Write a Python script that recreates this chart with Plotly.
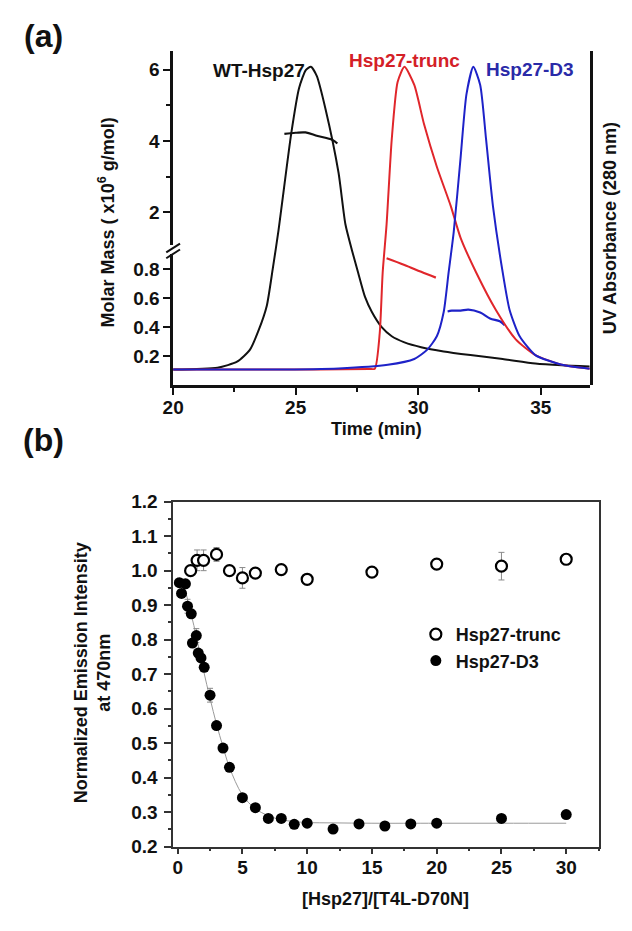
import plotly.graph_objects as go

# ---------------- Panel (a) data: UV absorbance traces (arbitrary units) -------------
wt_uv_t = [20.0, 21.81, 22.61, 23.13, 23.49, 23.82, 24.06, 24.30, 24.82, 25.14, 25.42, 25.62,
           25.86, 26.22, 26.75, 27.03, 27.31, 27.55, 27.83, 28.11, 28.51, 28.92, 29.44, 30.12,
           31.04, 32.13, 33.45, 34.78, 35.86, 37.0]
wt_uv_v = [0.0, 0.006, 0.026, 0.065, 0.13, 0.21, 0.33, 0.46, 0.78, 0.93, 0.99, 1.0,
           0.97, 0.86, 0.65, 0.48, 0.39, 0.32, 0.24, 0.19, 0.14, 0.11, 0.09, 0.074,
           0.06, 0.048, 0.035, 0.02, 0.014, 0.01]

trunc_uv_t = [20.0, 24.0, 28.0, 28.23, 28.43, 28.55, 28.71, 28.92, 29.16, 29.44, 29.84, 30.24,
              30.76, 31.33, 31.73, 32.37, 33.17, 33.98, 34.78, 35.86, 37.0]
trunc_uv_v = [0.0, 0.0, 0.002, 0.003, 0.12, 0.32, 0.48, 0.76, 0.95, 1.0, 0.94, 0.81,
              0.67, 0.54, 0.435, 0.32, 0.197, 0.10, 0.048, 0.016, 0.003]

d3_uv_t = [20.0, 24.0, 26.75, 28.76, 29.84, 30.36, 30.76, 31.04, 31.24, 31.45, 31.73, 31.97,
           32.25, 32.53, 32.77, 33.05, 33.45, 33.73, 34.14, 34.78, 35.86, 37.0]
d3_uv_v = [0.0, 0.0, 0.004, 0.016, 0.035, 0.065, 0.11, 0.19, 0.32, 0.455, 0.70, 0.91,
           1.0, 0.94, 0.76, 0.54, 0.32, 0.197, 0.11, 0.048, 0.016, 0.003]

# ---------------- Panel (a) data: molar mass (x10^6 g/mol) ----------------
wt_mm_t = [24.54, 25.0, 25.4, 25.9, 26.5, 26.7]
wt_mm_v = [4.20, 4.23, 4.24, 4.14, 4.03, 3.93]
trunc_mm_t = [28.71, 29.44, 30.12, 30.72]
trunc_mm_v = [0.873, 0.827, 0.78, 0.74]
d3_mm_t = [31.2, 31.37, 31.73, 32.05, 32.53, 32.93, 33.33, 33.53]
d3_mm_v = [0.507, 0.513, 0.513, 0.52, 0.50, 0.46, 0.44, 0.413]

# ---------------- Panel (b) data ----------------
trunc_x = [1.0, 1.5, 2.0, 3.0, 4.0, 5.0, 6.0, 8.0, 10.0, 15.0, 20.0, 25.0, 30.0]
trunc_y = [1.0, 1.03, 1.03, 1.047, 1.0, 0.979, 0.993, 1.003, 0.975, 0.996, 1.019, 1.013, 1.033]
trunc_err = [0.01, 0.03, 0.03, 0.02, 0.005, 0.03, 0.005, 0.005, 0.004, 0.005, 0.008, 0.04, 0.004]

d3_x = [0.13, 0.3, 0.6, 0.76, 1.05, 1.14, 1.44, 1.59, 1.8, 2.05, 2.5, 3.0, 3.5, 4.0, 5.0, 6.0,
        7.0, 8.0, 9.0, 10.0, 12.0, 14.0, 16.0, 18.0, 20.0, 25.0, 30.0]
d3_y = [0.965, 0.934, 0.962, 0.897, 0.875, 0.79, 0.812, 0.761, 0.747, 0.72, 0.639, 0.551, 0.486,
        0.43, 0.342, 0.313, 0.282, 0.282, 0.265, 0.268, 0.251, 0.266, 0.26, 0.266, 0.268, 0.282, 0.293]
d3_err = [0.01, 0.01, 0.01, 0.02, 0.01, 0.01, 0.02, 0.01, 0.01, 0.01, 0.02, 0.01, 0.01,
          0.01, 0.005, 0.005, 0.005, 0.005, 0.005, 0.005, 0.005, 0.005, 0.005, 0.005, 0.005, 0.005, 0.005]

fit_x = [0.0, 0.5, 1.0, 1.5, 2.0, 2.5, 3.0, 3.5, 4.0, 5.0, 6.0, 7.0, 8.0, 9.0, 10.0, 12.0, 15.0,
         20.0, 25.0, 30.0]
fit_y = [0.98, 0.95, 0.88, 0.80, 0.71, 0.63, 0.555, 0.49, 0.43, 0.35, 0.31, 0.29, 0.278, 0.273,
         0.27, 0.269, 0.268, 0.268, 0.268, 0.268]

FONT = "Arial, Liberation Sans, sans-serif"
BLACK = "#111111"
RED = "#e0262b"
BLUE = "#1e22c8"

fig = go.Figure()

for t, v, c in [(wt_uv_t, wt_uv_v, BLACK), (trunc_uv_t, trunc_uv_v, RED), (d3_uv_t, d3_uv_v, BLUE)]:
    fig.add_trace(go.Scatter(x=t, y=v, mode="lines", line=dict(color=c, width=2, shape="spline", smoothing=0.6),
                             xaxis="x", yaxis="y3", showlegend=False, hoverinfo="skip"))
fig.add_trace(go.Scatter(x=wt_mm_t, y=wt_mm_v, mode="lines", line=dict(color=BLACK, width=2.2, shape="spline"),
                         xaxis="x", yaxis="y2", showlegend=False))
fig.add_trace(go.Scatter(x=trunc_mm_t, y=trunc_mm_v, mode="lines", line=dict(color=RED, width=2.2, shape="spline"),
                         xaxis="x", yaxis="y", showlegend=False))
fig.add_trace(go.Scatter(x=d3_mm_t, y=d3_mm_v, mode="lines", line=dict(color=BLUE, width=2.2, shape="spline"),
                         xaxis="x", yaxis="y", showlegend=False))

fig.add_trace(go.Scatter(x=fit_x, y=fit_y, mode="lines", line=dict(color="#9a9a9a", width=1, shape="spline"),
                         xaxis="x2", yaxis="y4", showlegend=False))
fig.add_trace(go.Scatter(x=trunc_x, y=trunc_y, mode="markers", name="Hsp27-trunc",
                         marker=dict(symbol="circle", size=11, color="white", line=dict(width=2.2, color="black")),
                         error_y=dict(type="data", array=trunc_err, color="#8a8a8a", thickness=1, width=3),
                         xaxis="x2", yaxis="y4"))
fig.add_trace(go.Scatter(x=d3_x, y=d3_y, mode="markers", name="Hsp27-D3",
                         marker=dict(symbol="circle", size=11, color="black"),
                         error_y=dict(type="data", array=d3_err, color="#8a8a8a", thickness=1, width=3),
                         xaxis="x2", yaxis="y4"))

W, H = 632, 931
def px(x):
    return x / W
def py(y):
    return 1 - y / H

tickfont = dict(family=FONT, size=19, color=BLACK, weight="bold")
axcommon = dict(showgrid=False, zeroline=False, ticks="outside", tickwidth=2, ticklen=7,
                tickcolor=BLACK, linecolor=BLACK, tickfont=tickfont)

fig.update_layout(
    width=W, height=H,
    margin=dict(l=0, r=0, t=0, b=0),
    paper_bgcolor="white", plot_bgcolor="rgba(0,0,0,0)",
    font=dict(family=FONT, color=BLACK),
    xaxis=dict(domain=[px(165), px(589)], range=[20, 37], anchor="y", showline=True, linewidth=2.5,
               tickvals=[20, 25, 30, 35], ticklabelstandoff=-4,
               minor=dict(tickvals=[22.5, 27.5, 32.5], ticks="outside", ticklen=4, tickwidth=2, tickcolor=BLACK),
               **axcommon),
    yaxis=dict(domain=[py(384), py(250)], range=[0, 0.9], anchor="x", showline=True, linewidth=2.5,
               tickvals=[0.2, 0.4, 0.6, 0.8], ticktext=["0.2", "0.4", "0.6", "0.8"], **axcommon),
    yaxis2=dict(domain=[py(240), py(42)], range=[1.096, 6.52], anchor="x", showline=True, linewidth=2.5,
                tickvals=[2, 4, 6], minor=dict(tickvals=[3, 5], ticks="outside", ticklen=4, tickwidth=2,
                                               tickcolor=BLACK), **axcommon),
    yaxis3=dict(domain=[py(384), py(42)], range=[-0.052, 1.052], anchor="x", side="right", showline=True,
                linewidth=2.5, linecolor=BLACK, showticklabels=False, ticks="", showgrid=False, zeroline=False),
    xaxis2=dict(domain=[px(165), px(598)], range=[-0.35, 32.5], anchor="y4", showline=True, linewidth=1.5,
                mirror=True, tickvals=[0, 5, 10, 15, 20, 25, 30], ticklabelstandoff=-3,
                minor=dict(dtick=2.5, tick0=0, ticks="outside", ticklen=3, tickwidth=1.5, tickcolor="#333"),
                showgrid=False, zeroline=False, ticks="outside", tickwidth=1.5, ticklen=6, tickcolor="#333",
                linecolor="#333", tickfont=tickfont),
    yaxis4=dict(domain=[py(856), py(503)], range=[0.2, 1.2], anchor="x2", showline=True, linewidth=1.5,
                mirror=True, dtick=0.1, tick0=0.2, tickformat=".1f", ticklabelstandoff=3,
                minor=dict(dtick=0.05, tick0=0.2, ticks="outside", ticklen=3, tickwidth=1.5, tickcolor="#333"),
                showgrid=False, zeroline=False, ticks="outside", tickwidth=1.5, ticklen=7, tickcolor="#333",
                linecolor="#333", tickfont=tickfont),
    legend=dict(x=px(412), y=py(620), xanchor="left", yanchor="top", bgcolor="rgba(0,0,0,0)",
                font=dict(family=FONT, size=18, color=BLACK, weight="bold"), tracegroupgap=0, itemwidth=30),
)

def ann(text, x, y, size=19, color=BLACK, angle=0, weight="bold"):
    fig.add_annotation(text=text, x=px(x), y=py(y), xref="paper", yref="paper", showarrow=False,
                       textangle=angle, xanchor="center", yanchor="middle",
                       font=dict(family=FONT, size=size, color=color, weight=weight))

ann("(a)", 33, 27, size=32)
ann("(b)", 33, 440, size=32)
ann("Molar Mass ( x10<sup>6</sup> g/mol)", 97, 217, size=18, angle=-90)
ann("UV Absorbance (280 nm)", 610, 223, size=18, angle=-90)
ann("Time (min)", 372, 429, size=18)
ann("WT-Hsp27", 252, 62, size=19)
ann("Hsp27-trunc", 400, 52, size=19, color="#d42027")
ann("Hsp27-D3", 528, 61, size=19, color="#2a2aa8")
ann("Normalized Emission Intensity<br>at 470nm", 83, 678, size=18, angle=-90)
ann("[Hsp27]/[T4L-D70N]", 381, 910, size=18)

# axis break marks on the left molar-mass axis
for y0 in (248, 254):
    fig.add_shape(type="line", xref="paper", yref="paper", x0=px(158), y0=py(y0), x1=px(172), y1=py(y0 - 9),
                  line=dict(color=BLACK, width=2))

fig.write_html("out.html", config={"displayModeBar": False},
               post_script="document.body.style.margin='0';document.body.style.overflow='hidden';")
